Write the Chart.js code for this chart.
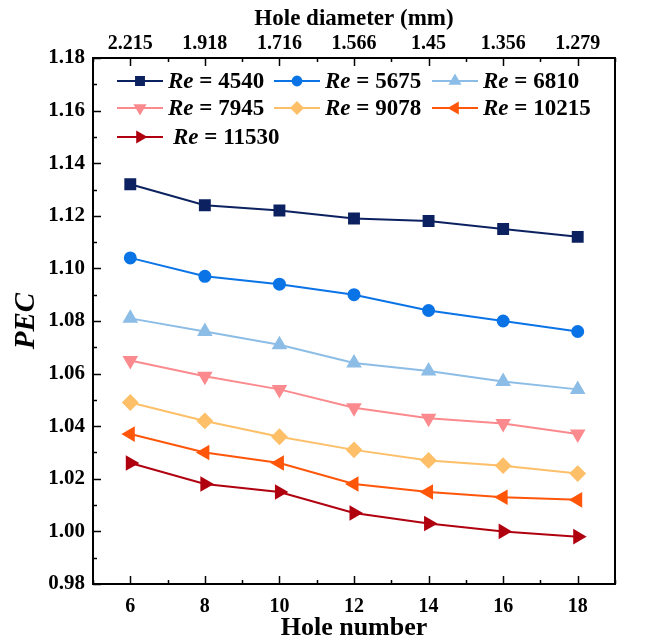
<!DOCTYPE html>
<html>
<head>
<meta charset="utf-8">
<script src="https://cdn.jsdelivr.net/npm/chart.js@4.4.0/dist/chart.umd.min.js"></script>
<style>
  body { margin: 0; background: #fff; }
  #wrap { width: 671px; height: 644px; position: relative; }
</style>
</head>
<body>
<div id="wrap"><canvas id="pecChart"></canvas></div>
<script>
// Hole number on the bottom axis, matching hole diameter on the top axis
const holeNumbers = [6, 8, 10, 12, 14, 16, 18];
const holeDiameters = ['2.215', '1.918', '1.716', '1.566', '1.45', '1.356', '1.279'];

// Reynolds numbers, one curve each
const reValues = [4540, 5675, 6810, 7945, 9078, 10215, 11530];

// PEC values for each Re
const pecRe4540  = [1.132, 1.124, 1.122, 1.119, 1.118, 1.115, 1.112];
const pecRe5675  = [1.104, 1.097, 1.094, 1.090, 1.084, 1.080, 1.076];
const pecRe6810  = [1.081, 1.076, 1.071, 1.064, 1.061, 1.057, 1.054];
const pecRe7945  = [1.065, 1.059, 1.054, 1.047, 1.043, 1.041, 1.037];
const pecRe9078  = [1.049, 1.042, 1.036, 1.031, 1.027, 1.025, 1.022];
const pecRe10215 = [1.037, 1.030, 1.026, 1.018, 1.015, 1.013, 1.012];
const pecRe11530 = [1.026, 1.018, 1.015, 1.007, 1.003, 1.000, 0.998];

const yTickLabels = ['0.98', '1.00', '1.02', '1.04', '1.06', '1.08', '1.10', '1.12', '1.14', '1.16', '1.18'];

const pecSeries = [pecRe4540, pecRe5675, pecRe6810, pecRe7945, pecRe9078, pecRe10215, pecRe11530];
const colors = ['#0c2260', '#0a74e6', '#8cbde6', '#fb8a8e', '#fdbf68', '#ff560a', '#b0000f'];
const markers = ['rect', 'circle', 'triangle', 'triangle', 'rectRot', 'triangle', 'triangle'];
const rotations = [0, 0, 0, 180, 0, 270, 90];
const radii = [7, 5.5, 7, 7, 7, 7, 7];

const FONT = '"Liberation Serif", "Times New Roman", serif';

const datasets = pecSeries.map((vals, i) => ({
    label: 'Re = ' + reValues[i],
    data: vals.map((v, j) => ({ x: holeNumbers[j], y: v })),
    borderColor: colors[i],
    backgroundColor: colors[i],
    borderWidth: 2,
    pointStyle: markers[i],
    pointRotation: rotations[i],
    pointRadius: radii[i],
    pointHoverRadius: radii[i],
    tension: 0
}));

// frame, inward ticks and the 3-column legend
const decorPlugin = {
    id: 'decor',
    afterDraw(chart) {
        const ctx = chart.ctx;
        const a = chart.chartArea;
        const xs = chart.scales.x;
        const ys = chart.scales.y;
        ctx.save();
        ctx.strokeStyle = '#000';
        ctx.lineWidth = 2;
        ctx.strokeRect(a.left, a.top, a.right - a.left, a.bottom - a.top);

        ctx.lineWidth = 1.5;
        ctx.beginPath();
        for (let v = 5; v <= 19; v++) {
            const px = Math.round(xs.getPixelForValue(v)) + 0.5;
            const len = v % 2 === 0 ? 8 : 4;
            ctx.moveTo(px, a.bottom); ctx.lineTo(px, a.bottom - len);
            ctx.moveTo(px, a.top); ctx.lineTo(px, a.top + len);
        }
        for (let k = 0; k <= 20; k++) {
            const py = Math.round(ys.getPixelForValue(0.98 + k * 0.01)) + 0.5;
            const len = k % 2 === 0 ? 8 : 4;
            ctx.moveTo(a.left, py); ctx.lineTo(a.left + len, py);
        }
        ctx.stroke();

        // legend
        const colX = [117, 274, 432];
        const rowY = [81, 108, 137];
        chart.data.datasets.forEach((ds, i) => {
            const col = i % 3, row = Math.floor(i / 3);
            const x0 = colX[col], y = rowY[row];
            ctx.strokeStyle = ds.borderColor;
            ctx.lineWidth = 2;
            ctx.beginPath();
            ctx.moveTo(x0, y); ctx.lineTo(x0 + 46, y);
            ctx.stroke();
            ctx.fillStyle = ds.backgroundColor;
            ctx.strokeStyle = ds.borderColor;
            Chart.helpers.drawPoint(ctx, {
                pointStyle: ds.pointStyle, rotation: ds.pointRotation,
                radius: ds.pointRadius * 0.8, borderWidth: 1
            }, x0 + 23, y);
            let tx = x0 + 51 + (i === 6 ? 5 : 0);
            ctx.fillStyle = '#000';
            ctx.textBaseline = 'middle';
            ctx.textAlign = 'left';
            ctx.font = 'italic bold 23px ' + FONT;
            ctx.fillText('Re', tx, y + 1);
            tx += ctx.measureText('Re').width;
            ctx.font = 'bold 23px ' + FONT;
            ctx.fillText(' = ' + reValues[i], tx, y + 1);
        });
        ctx.restore();
    }
};

new Chart(document.getElementById('pecChart'), {
    type: 'line',
    data: { datasets: datasets },
    plugins: [decorPlugin],
    options: {
        responsive: true,
        maintainAspectRatio: false,
        animation: false,
        layout: { padding: { left: 0, right: 56, top: 0, bottom: 0 } },
        plugins: { legend: { display: false }, tooltip: { enabled: false } },
        scales: {
            x: {
                type: 'linear', position: 'bottom', min: 5, max: 19,
                grid: { display: false, drawTicks: false },
                border: { display: false },
                afterBuildTicks: s => { s.ticks = holeNumbers.map(v => ({ value: v })); },
                afterFit: s => { s.height = 60; },
                ticks: { color: '#000', padding: 11, maxRotation: 0,
                         font: { family: FONT, size: 20, weight: 'bold' } },
                title: { display: true, text: 'Hole number', color: '#000', padding: 0,
                         font: { family: FONT, size: 26, weight: 'bold' } }
            },
            x2: {
                type: 'linear', position: 'top', min: 5, max: 19,
                grid: { display: false, drawTicks: false },
                border: { display: false },
                afterBuildTicks: s => { s.ticks = holeNumbers.map(v => ({ value: v })); },
                afterFit: s => { s.height = 58; },
                ticks: { color: '#000', padding: 2, maxRotation: 0,
                         callback: v => holeDiameters[holeNumbers.indexOf(v)],
                         font: { family: FONT, size: 20, weight: 'bold' } },
                title: { display: true, text: 'Hole diameter (mm)', color: '#000',
                         padding: { top: 5, bottom: 0 },
                         font: { family: FONT, size: 23, weight: 'bold' } }
            },
            y: {
                type: 'linear', min: 0.98, max: 1.18,
                grid: { display: false, drawTicks: false },
                border: { display: false },
                afterBuildTicks: s => { s.ticks = yTickLabels.map(t => ({ value: Number(t) })); },
                afterFit: s => { s.width = 93; },
                ticks: { color: '#000', padding: 8,
                         callback: v => v.toFixed(2),
                         font: { family: FONT, size: 21, weight: 'bold' } },
                title: { display: true, text: 'PEC', color: '#000', padding: { top: 9, bottom: 0 },
                         font: { family: FONT, size: 29, weight: 'bold', style: 'italic' } }
            }
        }
    }
});
</script>
</body>
</html>
